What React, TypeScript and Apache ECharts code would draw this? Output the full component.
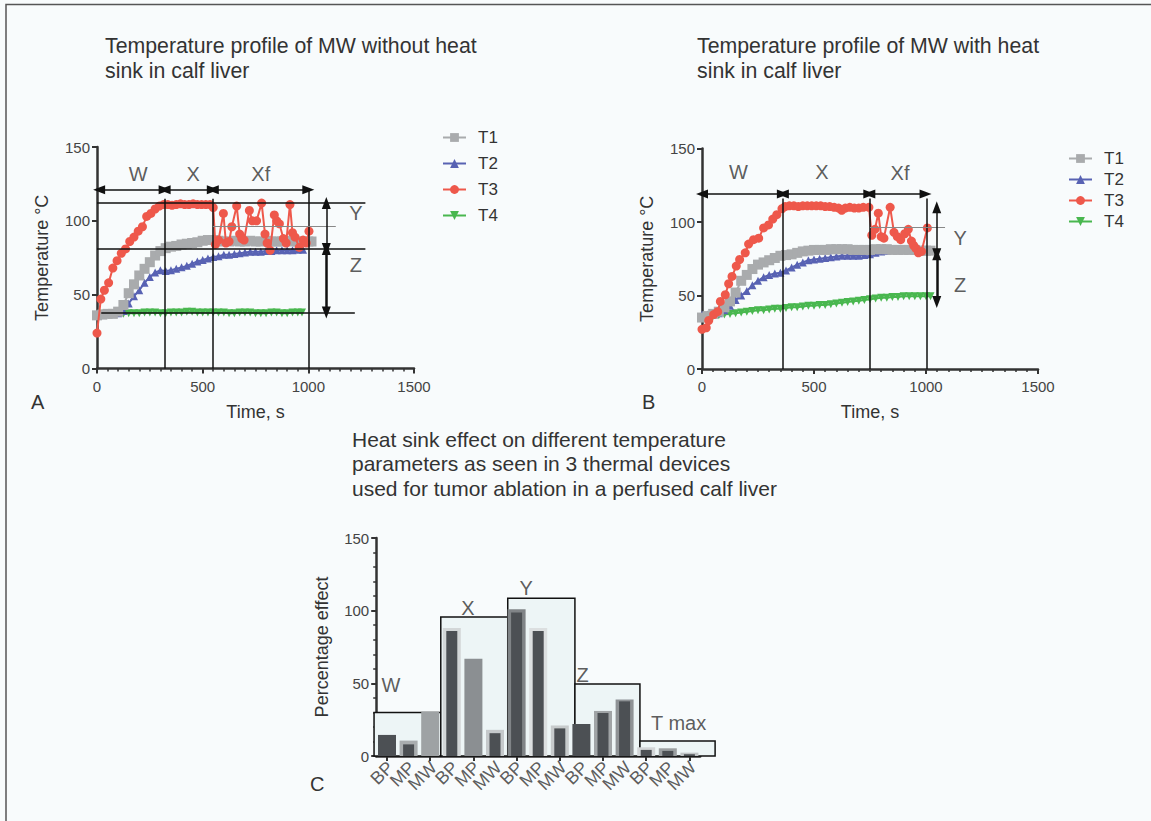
import React, { useEffect, useRef } from "react";
import * as echarts from "echarts";

const FONT = "'Liberation Sans', Arial, Helvetica, sans-serif";

// ---------- Panel titles ----------
const titleA = "Temperature profile of MW without heat\nsink in calf liver";
const titleB = "Temperature profile of MW with heat\nsink in calf liver";
const titleC =
  "Heat sink effect on different temperature\nparameters as seen in 3 thermal devices\nused for tumor ablation in a perfused calf liver";

const seriesNames = ["T1", "T2", "T3", "T4"];

// ---------- Panel A: without heat sink (time s, temperature °C) ----------
const aT1 = [[0,36],[25,36.5],[50,37],[75,37],[100,38.5],[125,43],[150,51],[175,57],[200,63],[225,67.5],[250,72],[275,76.5],[300,79.5],[325,81.5],[350,82.5],[375,83],[400,84],[425,84.5],[450,85],[475,85.5],[500,86.5],[525,87],[550,87],[575,86.5],[600,86],[625,86],[650,86.5],[675,86],[700,86],[725,86.5],[750,86],[775,86],[800,86.5],[825,86],[850,86],[875,86],[900,86.5],[925,86],[950,86],[975,86],[1000,86],[1015,86]];
const aT2 = [[0,37],[25,37],[50,37],[75,37],[100,37.5],[125,39],[150,44],[175,49],[200,53],[225,58],[250,62],[275,65],[300,66.5],[325,66],[350,66.5],[375,67.5],[400,68.5],[425,69.5],[450,71],[475,72.5],[500,73.5],[525,74.5],[550,75.5],[575,76],[600,77],[625,77],[650,77.5],[675,78],[700,78.5],[725,79],[750,79],[775,79],[800,79.5],[825,79.5],[850,80],[875,80],[900,80],[925,80],[950,80.5],[975,80.5]];
const aT3 = [[0,24],[18,47],[35,53],[55,58],[75,68],[95,73],[115,78],[135,81],[155,86],[175,89],[195,93],[215,96],[235,103],[255,105],[275,108],[295,110],[315,111],[335,111],[355,110.5],[375,111],[395,111.5],[415,111],[435,111],[455,111.5],[475,111],[495,111],[515,111],[535,111],[550,109],[560,84],[575,87],[598,105],[610,85],[625,86],[638,96],[661,110],[675,91],[685,88],[696,87],[721,107],[735,100],[755,100],[779,112],[795,91],[805,85],[819,80],[839,104],[850,100],[863,98],[882,88],[895,85],[913,111],[925,92],[937,89],[957,82],[975,87],[990,85],[1003,93]];
const aT4 = [[0,36],[25,37],[50,37],[75,37],[100,37.5],[125,37],[150,37.5],[175,37.5],[200,37.5],[225,38],[250,38],[275,38],[300,37.5],[325,37.5],[350,38],[375,38],[400,38],[425,38.5],[450,38.5],[475,38],[500,38],[525,38],[550,38],[575,38],[600,38],[625,37.5],[650,37.5],[675,38],[700,38],[725,38],[750,37.5],[775,37.5],[800,37.5],[825,38],[850,38],[875,37.5],[900,37.5],[925,38],[950,38],[970,38]];

// ---------- Panel B: with heat sink ----------
const bT1 = [[0,35],[25,36],[50,37.5],[75,39],[100,42],[125,46],[150,52],[175,60],[200,64],[225,68],[250,71],[275,72.5],[300,74],[325,75.5],[350,77],[375,77.5],[400,78],[425,79],[450,80],[475,80.5],[500,81],[525,81],[550,81],[575,81.5],[600,81.5],[625,81.5],[650,81.5],[675,81],[700,81],[725,81],[750,81],[775,81.5],[800,81.5],[825,81.5],[850,81],[875,81],[900,81],[925,81],[950,81],[975,80.5],[1000,80.5],[1020,80.5]];
const bT2 = [[0,37],[25,37],[50,37],[75,38],[100,40],[125,43],[150,47],[175,50],[200,53],[225,57],[250,60],[275,62.5],[300,64],[325,65],[350,65.5],[375,67],[400,69],[425,71],[450,72.5],[475,74],[500,74.5],[525,75],[550,75.5],[575,76],[600,76.5],[625,77],[650,77],[675,77],[700,77],[725,77.5],[750,78],[775,79],[800,80],[825,80.5],[850,81],[875,81],[900,81],[925,81],[950,81],[975,81],[1000,81]];
const bT3 = [[0,27],[19,28],[30,33],[52,37],[70,39],[82,46],[104,50.5],[119,58],[134,63],[153,70],[168,74.5],[193,79],[208,85],[230,88],[253,89],[275,96],[297,98],[316,102],[334,105],[357,109],[371,110.5],[390,111],[410,111],[430,110.5],[450,111],[470,111],[490,111],[510,111],[530,111],[550,110.5],[570,110.5],[590,110],[610,109.5],[624,108],[640,109.5],[660,110],[680,109.5],[700,109.5],[720,110],[745,110],[758,91],[772,95],[787,106],[800,90],[812,89],[840,110],[857,93],[872,90],[887,88],[905,92],[921,95],[935,87],[945,84],[955,82],[966,79],[980,80],[1006,96]];
const bT4 = [[0,35],[25,35.5],[50,36],[75,36.5],[100,37],[125,37.5],[150,38],[175,38.5],[200,39],[225,39.5],[250,40],[275,40],[300,40.5],[325,41],[350,41],[375,41.5],[400,42],[425,42],[450,42.5],[475,43],[500,43],[525,43.5],[550,43.5],[575,44],[600,44.5],[625,45],[650,45.5],[675,46],[700,46.5],[725,47],[750,47.5],[775,48],[800,48.5],[825,48.5],[850,49],[875,49],[900,49.5],[925,49.5],[950,49.5],[975,49.5],[1000,49.5],[1020,49.5]];

// ---------- Annotations (data coordinates) ----------
const refLinesA = [[[0,112],[1270,112]],[[0,81],[1270,81]],[[20,38],[1220,38]],[[320,0],[320,115]],[[548,0],[548,115]],[[1000,0],[1000,121]]];
const grayLinesA = [[[548,96],[1130,96]]];
const arrowsA = [[[10,121],[320,121]],[[320,121],[548,121]],[[548,121],[1000,121]],[[1085,112],[1085,81]]];
const thickArrowsA = [[[1085,81],[1085,38]]];
const labelsA = [["W",195,132],["X",455,132],["Xf",775,132],["Y",1225,105],["Z",1225,70]];

const refLinesB = [[[-15,110],[1175,110]],[[-15,77.5],[1175,77.5]],[[-40,45.5],[1210,45.5]],[[361,0],[361,116]],[[747,0],[747,116]],[[1003,0],[1003,116]]];
const grayLinesB = [[[750,96.5],[1085,96.5]]];
const arrowsB = [[[0,119],[361,119]],[[361,119],[747,119]],[[747,119],[998,119]],[[1048,110],[1048,78]]];
const thickArrowsB = [[[1048,78],[1048,45.5]]];
const labelsB = [["W",163,134],["X",535,134],["Xf",884,133],["Y",1152,89],["Z",1152,57]];

// ---------- Panel C: percentage heat-sink effect ----------
const barCategories = ["BP","MP","MW","BP","MP","MW","BP","MP","MW","BP","MP","MW","BP","MP","MW"];
const backValues = [14.5,10.6,30.5,88,67,18,101,88,21,22,31,38.8,6,5.3,2.3];
const frontValues: (number | null)[] = [null,8,null,86,null,15.7,98.8,86,19,null,29.6,37.6,4.2,3.5,1.2];
const groupBoxes = [[-0.1,2.99,30],[2.99,6.09,95.6],[6.09,9.2,108.6],[9.2,12.21,49.6],[12.21,15.69,10.3]];
const groupLabels = [["W",0.68,49],["X",4.25,102],["Y",6.94,115.5],["Z",9.56,56],["T max",14.0,22.7]];

// styles (kept separate from the data)
const DARK = "#4c5054";
const backShades = [DARK,"#a9adaf","#9ea2a4","#d3d7d8","#8b8f92","#c5c9cb","#808487","#dcdfe0","#c7cbcc",DARK,"#a0a4a6","#8e9295","#d2d5d7","#9a9ea0","#c0c4c6"];
const lineStyles: Record<string, any> = {
  T1: { color: "#a9abad", symbol: "rect", size: 10, rotate: 0, z: 3 },
  T2: { color: "#5862b3", symbol: "triangle", size: 8, rotate: 0, z: 2 },
  T3: { color: "#ee584b", symbol: "circle", size: 9, rotate: 0, z: 4 },
  T4: { color: "#49b74f", symbol: "triangle", size: 8, rotate: 180, z: 2 },
};

function tempSeries(name: string, data: number[][], idx: number) {
  const s = lineStyles[name];
  return {
    type: "line",
    name,
    data,
    xAxisIndex: idx,
    yAxisIndex: idx,
    symbol: s.symbol,
    symbolSize: s.size,
    symbolRotate: s.rotate,
    itemStyle: { color: s.color },
    lineStyle: { color: s.color, width: 2 },
    z: s.z,
    silent: true,
  };
}

function markSeries(idx: number, lines: number[][][], color: string, width: number, arrows: boolean) {
  return {
    type: "line",
    data: [],
    xAxisIndex: idx,
    yAxisIndex: idx,
    silent: true,
    z: 6,
    markLine: {
      silent: true,
      animation: false,
      symbol: arrows ? ["triangle", "triangle"] : ["none", "none"],
      symbolSize: [9, 12],
      label: { show: false },
      emphasis: { disabled: true },
      lineStyle: { color, width, type: "solid", opacity: 1 },
      data: lines.map((c) => [{ coord: c[0] }, { coord: c[1] }]),
    },
  };
}

function textSeries(xi: number, yi: number, items: any[][], color: string) {
  return {
    type: "scatter",
    xAxisIndex: xi,
    yAxisIndex: yi,
    silent: true,
    z: 7,
    symbolSize: 1,
    itemStyle: { color: "rgba(0,0,0,0)" },
    label: { show: true, position: "inside", formatter: "{b}", fontSize: 20, color, fontFamily: FONT },
    data: items.map((it) => ({ name: it[0], value: [it[1], it[2]] })),
  };
}

const axisCommon = {
  axisLine: { show: true, lineStyle: { color: "#333", width: 2.5 } },
  axisTick: { show: true, length: 5, lineStyle: { color: "#333", width: 2 } },
  splitLine: { show: false },
  nameTextStyle: { color: "#333", fontSize: 18, fontFamily: FONT },
};
const labelCommon = { color: "#444", fontSize: 15, fontFamily: FONT, formatter: (v: number) => String(v) };

function timeAxis(gi: number) {
  return {
    ...axisCommon,
    type: "value",
    gridIndex: gi,
    min: 0,
    max: 1500,
    interval: 500,
    minorTick: { show: true, splitNumber: 10, length: 3, lineStyle: { color: "#333", width: 1.5 } },
    minorSplitLine: { show: false },
    axisLabel: { ...labelCommon, margin: 10 },
    name: "Time, s",
    nameLocation: "middle",
    nameGap: 34,
  };
}
function tempAxis(gi: number) {
  return {
    ...axisCommon,
    type: "value",
    gridIndex: gi,
    min: 0,
    max: 150,
    interval: 50,
    axisLabel: { ...labelCommon, margin: 7 },
    name: "Temperature °C",
    nameLocation: "middle",
    nameGap: 46,
    nameRotate: 90,
  };
}

function legendAt(left: number, top: number, gap: number) {
  return {
    data: seriesNames,
    orient: "vertical",
    left,
    top,
    itemWidth: 23,
    itemHeight: 11,
    itemGap: gap,
    selectedMode: false,
    textStyle: { fontSize: 17, color: "#333", fontFamily: FONT, padding: [0, 0, 0, 7] },
  };
}

function textEl(text: string, x: number, y: number, size: number, lineHeight?: number) {
  return {
    type: "text",
    x,
    y,
    silent: true,
    z: 10,
    style: {
      text,
      fill: "#333",
      fontSize: size,
      fontFamily: FONT,
      lineHeight: lineHeight || size,
      verticalAlign: "top",
      align: "left",
    },
  };
}

export default function App() {
  const ref = useRef<HTMLDivElement>(null);
  useEffect(() => {
    if (!ref.current) return;
    const chart = echarts.init(ref.current, null, { renderer: "svg" });
    const option: any = {
      animation: false,
      backgroundColor: "#f8fbfc",
      textStyle: { fontFamily: FONT },
      graphic: {
        elements: [
          {
            type: "rect",
            z: -100,
            silent: true,
            shape: { x: 6, y: 4.5, width: 1200, height: 900 },
            style: { fill: "#f8fbfc", stroke: "#555", lineWidth: 1.5 },
          },
          textEl(titleA, 105, 33, 21.3, 25),
          textEl(titleB, 697, 33, 21.3, 25),
          textEl(titleC, 352, 427, 21, 24.5),
          textEl("A", 31, 392, 20),
          textEl("B", 642, 392, 20),
          textEl("C", 310, 774, 20),
        ],
      },
      legend: [legendAt(437, 124, 9), legendAt(1063, 145, 4)],
      grid: [
        { left: 97, top: 147, width: 317, height: 221.5 },
        { left: 702, top: 148.5, width: 336, height: 220.5 },
        { left: 376.2, top: 538, width: 324, height: 218 },
      ],
      xAxis: [
        timeAxis(0),
        timeAxis(1),
        {
          ...axisCommon,
          type: "category",
          gridIndex: 2,
          data: barCategories,
          axisTick: { show: true, alignWithLabel: true, length: 5, lineStyle: { color: "#333", width: 2 } },
          axisLabel: { show: false },
        },
        { type: "value", gridIndex: 2, min: 0, max: 15, show: false },
        { type: "category", gridIndex: 2, data: barCategories, show: false },
      ],
      yAxis: [
        tempAxis(0),
        tempAxis(1),
        {
          ...axisCommon,
          type: "value",
          gridIndex: 2,
          min: 0,
          max: 150,
          interval: 50,
          minorTick: { show: true, splitNumber: 5, length: 3, lineStyle: { color: "#333", width: 1.5 } },
          minorSplitLine: { show: false },
          axisLabel: { ...labelCommon, margin: 7 },
          name: "Percentage effect",
          nameLocation: "middle",
          nameGap: 45,
          nameRotate: 90,
        },
      ],
      series: [
        tempSeries("T4", aT4, 0),
        tempSeries("T2", aT2, 0),
        tempSeries("T1", aT1, 0),
        tempSeries("T3", aT3, 0),
        markSeries(0, refLinesA, "#111", 1.5, false),
        markSeries(0, grayLinesA, "#888", 1.2, false),
        markSeries(0, arrowsA, "#111", 1.5, true),
        markSeries(0, thickArrowsA, "#111", 2.5, true),
        textSeries(0, 0, labelsA, "#333"),

        tempSeries("T4", bT4, 1),
        tempSeries("T2", bT2, 1),
        tempSeries("T1", bT1, 1),
        tempSeries("T3", bT3, 1),
        markSeries(1, refLinesB, "#111", 1.5, false),
        markSeries(1, grayLinesB, "#888", 1.2, false),
        markSeries(1, arrowsB, "#111", 1.5, true),
        markSeries(1, thickArrowsB, "#111", 2.5, true),
        textSeries(1, 1, labelsB, "#333"),

        {
          type: "custom",
          xAxisIndex: 3,
          yAxisIndex: 2,
          silent: true,
          clip: false,
          z: 1,
          encode: { x: [0, 1], y: 2 },
          data: groupBoxes,
          renderItem: (params: any, api: any) => {
            const p0 = api.coord([api.value(0), api.value(2)]);
            const p1 = api.coord([api.value(1), 0]);
            return {
              type: "rect",
              shape: { x: p0[0], y: p0[1], width: p1[0] - p0[0], height: p1[1] - p0[1] },
              style: { fill: "#edf5f6", stroke: "#111", lineWidth: 1.5 },
            };
          },
        },
        {
          type: "bar",
          xAxisIndex: 2,
          yAxisIndex: 2,
          silent: true,
          barWidth: 18,
          z: 2,
          data: backValues.map((v, i) => ({ value: v, itemStyle: { color: backShades[i] } })),
        },
        {
          type: "bar",
          xAxisIndex: 4,
          yAxisIndex: 2,
          silent: true,
          barWidth: 11,
          z: 3,
          itemStyle: { color: DARK },
          data: frontValues.map((v) => (v === null ? "-" : v)),
        },
        textSeries(3, 2, groupLabels, "#333"),
        {
          // rotated category labels under panel C
          type: "scatter",
          xAxisIndex: 3,
          yAxisIndex: 2,
          silent: true,
          clip: false,
          z: 7,
          symbolSize: 1,
          itemStyle: { color: "rgba(0,0,0,0)" },
          label: {
            show: true,
            position: [4, 9],
            rotate: 45,
            align: "right",
            verticalAlign: "middle",
            formatter: "{b}",
            fontSize: 18,
            color: "#333",
            fontFamily: FONT,
          },
          data: barCategories.map((c, i) => ({ name: c, value: [i + 0.5, 0] })),
        },
      ],
    };
    chart.setOption(option);
    return () => chart.dispose();
  }, []);
  return (
    <div
      ref={ref}
      style={{ position: "fixed", left: 0, top: 0, width: 1151, height: 821, background: "#f8fbfc" }}
    />
  );
}
